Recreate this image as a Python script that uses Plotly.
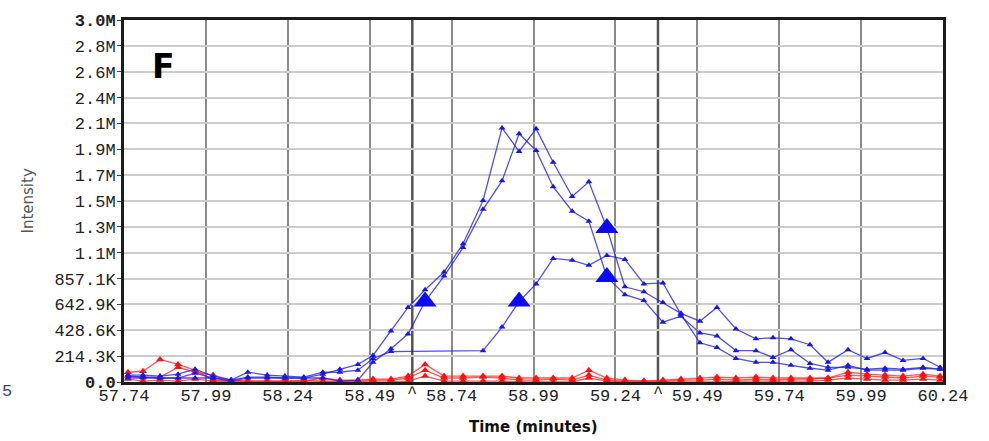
import plotly.graph_objects as go

# Retention-time grid (minutes) shared by the traces
times = [57.752, 57.798, 57.850, 57.905, 57.957, 58.012, 58.067, 58.118, 58.177, 58.231,
         58.289, 58.347, 58.399, 58.454, 58.500, 58.555, 58.607, 58.659, 58.717, 58.775,
         58.836, 58.894, 58.946, 58.998, 59.050, 59.108, 59.159, 59.214, 59.269, 59.327,
         59.385, 59.440, 59.498, 59.550, 59.608, 59.669, 59.721, 59.776, 59.834, 59.889,
         59.950, 60.008, 60.063, 60.118, 60.179, 60.231]

# Blue chromatograms (intensity, counts)
blue_a = [49e3, 41e3, 33e3, 33e3, 73e3, 33e3, 16e3, 41e3, 41e3, 33e3,
          33e3, 65e3, 106e3, 146e3, 220e3, 423e3, 618e3, 764e3, 911e3, 1146e3,
          1504e3, 2106e3, 1911e3, 2098e3, 1821e3, 1537e3, 1659e3, 1276e3, 789e3, 748e3,
          659e3, 569e3, 504e3, 618e3, 439e3, 358e3, 366e3, 358e3, 309e3, 163e3,
          268e3, 195e3, 244e3, 179e3, 195e3, 122e3]
blue_b = [33e3, 33e3, 33e3, 33e3, 33e3, 33e3, 8e3, 33e3, 33e3, 33e3,
          33e3, 33e3, 8e3, 16e3, 163e3, 276e3, 398e3, 667e3, 878e3, 1114e3,
          1431e3, 1667e3, 2057e3, 1919e3, 1618e3, 1415e3, 1333e3, 870e3, 724e3, 675e3,
          496e3, 545e3, 407e3, 382e3, 260e3, 260e3, 203e3, 268e3, 154e3, 122e3,
          122e3, 106e3, 114e3, 106e3, 122e3, 106e3]
# third blue trace has no scans between 58.555 and 58.836
times_c = times[:16] + times[20:]
blue_c = [57e3, 57e3, 49e3, 65e3, 106e3, 49e3, 16e3, 81e3, 57e3, 49e3,
          41e3, 81e3, 81e3, 98e3, 195e3, 252e3,
          260e3, 455e3, 667e3, 813e3, 1024e3, 1008e3, 967e3, 1049e3, 1016e3, 813e3,
          821e3, 561e3, 325e3, 285e3, 195e3, 163e3, 163e3, 138e3, 114e3, 98e3,
          138e3, 98e3, 98e3, 98e3, 114e3, 106e3]

# Red chromatograms
red_a = [81e3, 89e3, 187e3, 146e3, 98e3, 16e3, 8e3, 8e3, 8e3, 8e3,
         8e3, 33e3, 16e3, 16e3, 24e3, 24e3, 49e3, 146e3, 49e3, 49e3,
         49e3, 49e3, 33e3, 33e3, 33e3, 33e3, 98e3, 33e3, 16e3, 8e3,
         16e3, 24e3, 33e3, 41e3, 33e3, 41e3, 33e3, 33e3, 33e3, 33e3,
         81e3, 65e3, 57e3, 49e3, 65e3, 49e3]
red_b = [49e3, 41e3, 41e3, 122e3, 81e3, 57e3, 16e3, 8e3, 8e3, 8e3,
         16e3, 8e3, 8e3, 8e3, 16e3, 16e3, 33e3, 98e3, 33e3, 33e3,
         41e3, 33e3, 16e3, 16e3, 24e3, 16e3, 57e3, 16e3, 8e3, 8e3,
         8e3, 16e3, 16e3, 24e3, 16e3, 24e3, 16e3, 24e3, 24e3, 33e3,
         57e3, 49e3, 41e3, 33e3, 49e3, 41e3]
red_c = [24e3, 8e3, 16e3, 8e3, 24e3, 8e3, 0, 0, 0, 0,
         0, 0, 0, 0, 0, 0, 8e3, 49e3, 8e3, 8e3,
         8e3, 8e3, 0, 0, 0, 0, 33e3, 8e3, 0, 0,
         0, 0, 0, 0, 8e3, 8e3, 8e3, 8e3, 8e3, 16e3,
         33e3, 24e3, 16e3, 16e3, 24e3, 16e3]

# Highlighted scans (large triangles)
id_times = [58.659, 58.946, 59.214, 59.214]
id_values = [667e3, 667e3, 1276e3, 870e3]

# Reference retention times shown as dark lines with "^" on the axis
ref_times = [58.62, 59.37]

# Axis ticks
x_ticks = [57.74, 57.99, 58.24, 58.49, 58.74, 58.99, 59.24, 59.49, 59.74, 59.99, 60.24]
x_ticklabels = ["57.74", "57.99", "58.24", "58.49", "58.74", "58.99",
                "59.24", "59.49", "59.74", "59.99", "60.24"]
y_max = 3.0e6
y_ticklabels = ["<b>0.0</b>", "214.3K", "428.6K", "642.9K", "857.1K", "1.1M", "1.3M",
                "1.5M", "1.7M", "1.9M", "2.1M", "2.4M", "2.6M", "2.8M", "<b>3.0M</b>"]
y_ticks = [y_max * i / (len(y_ticklabels) - 1) for i in range(len(y_ticklabels))]

RED_LINE = "rgba(255,30,30,0.75)"
RED_MARK = "#ff1010"
BLUE_LINE = "rgba(35,35,235,0.8)"
BLUE_MARK = "#1717e8"

fig = go.Figure()

for xs, ys in [(times, red_c), (times, red_b), (times, red_a)]:
    fig.add_trace(go.Scatter(
        x=xs, y=ys, mode="lines+markers", cliponaxis=False,
        line=dict(color=RED_LINE, width=1.3),
        marker=dict(symbol="triangle-up", size=7, color=RED_MARK),
        showlegend=False, hoverinfo="skip"))

for xs, ys in [(times_c, blue_c), (times, blue_b), (times, blue_a)]:
    fig.add_trace(go.Scatter(
        x=xs, y=ys, mode="lines+markers", cliponaxis=False,
        line=dict(color=BLUE_LINE, width=1.3),
        marker=dict(symbol="triangle-up", size=6, color=BLUE_MARK),
        showlegend=False, hoverinfo="skip"))

fig.add_trace(go.Scatter(
    x=id_times, y=id_values, mode="markers", cliponaxis=False,
    marker=dict(symbol="triangle-up", size=20, color="#0c0cf0"),
    showlegend=False, hoverinfo="skip"))

shapes = []
for rt in ref_times:
    shapes.append(dict(type="line", xref="x", yref="paper", x0=rt, x1=rt, y0=0, y1=1,
                       line=dict(color="#555555", width=2.5), layer="below"))

annotations = []
for rt in ref_times:
    annotations.append(dict(x=rt, y=-0.033, xref="x", yref="paper", text="^",
                            showarrow=False, xanchor="center", yanchor="middle",
                            font=dict(family="Liberation Mono", size=17, color="#222222")))
annotations += [
    dict(x=0.048, y=0.872, xref="paper", yref="paper", text="<b>F</b>", showarrow=False,
         xanchor="center", yanchor="middle",
         font=dict(family="DejaVu Sans", size=33, color="#000000")),
    dict(x=-0.1178, y=0.5, xref="paper", yref="paper", text="Intensity", showarrow=False,
         xanchor="center", yanchor="middle", textangle=-90,
         font=dict(family="DejaVu Sans", size=15, color="#555555")),
    dict(x=0.5, y=-0.1247, xref="paper", yref="paper", text="<b>Time (minutes)</b>",
         showarrow=False, xanchor="center", yanchor="middle",
         font=dict(family="DejaVu Sans", size=15, color="#111111")),
    dict(x=-0.1514, y=-0.026, xref="paper", yref="paper", text="5", showarrow=False,
         xanchor="left", yanchor="middle",
         font=dict(family="Liberation Mono", size=17, color="#444444")),
]

fig.update_layout(
    width=989, height=441,
    margin=dict(l=124, r=46, t=13, b=59),
    paper_bgcolor="white", plot_bgcolor="white",
    shapes=shapes, annotations=annotations,
    xaxis=dict(range=[x_ticks[0], x_ticks[-1]], tickmode="array",
               tickvals=x_ticks, ticktext=x_ticklabels,
               showgrid=True, gridcolor="#8a8a8a", gridwidth=1.5,
               showline=True, mirror=True, linecolor="#1c1c1c", linewidth=3,
               zeroline=False, ticks="", ticklabelstandoff=-4,
               tickfont=dict(family="Liberation Mono", size=17, color="#222222")),
    yaxis=dict(range=[0, y_max], tickmode="array",
               tickvals=y_ticks, ticktext=y_ticklabels,
               showgrid=True, gridcolor="#cccccc", gridwidth=1.5,
               showline=True, mirror=True, linecolor="#1c1c1c", linewidth=3,
               zeroline=False, ticks="outside", ticklen=4, tickcolor="#444444",
               ticklabelstandoff=-2,
               tickfont=dict(family="Liberation Mono", size=17, color="#222222")),
)

fig.write_html("out.html")
